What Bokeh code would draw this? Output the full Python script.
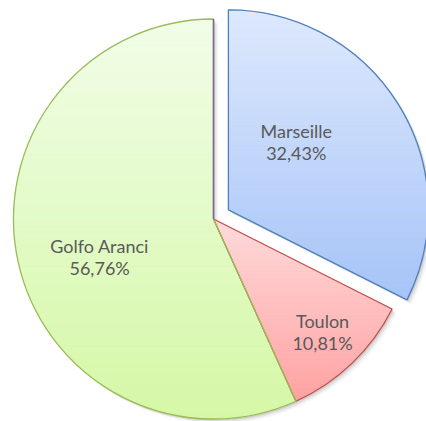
import numpy as np
from bokeh.plotting import figure
from bokeh.models import Range1d
from bokeh.embed import file_html
from bokeh.resources import INLINE
from bokeh.core.properties import value

# ---- data ----
categories = ["Marseille", "Toulon", "Golfo Aranci"]
shares = [32.43, 10.81, 56.76]
pct_labels = ["32,43%", "10,81%", "56,76%"]
exploded = [True, False, False]

# ---- style ----
fill_top = ["#dee9fd", "#ffdada", "#f1fde8"]
fill_bottom = ["#a6c4f8", "#ffa2a2", "#d5f8a6"]
edge_colors = ["#4f81bd", "#c0504d", "#9bbb59"]
zero_edge = "#8064a2"
# label placement: (distance from slice centre in px, angle clockwise from 12 o'clock)
label_layout = [(96, 45), (157, 136), (120, 251.6)]

W, H = 426, 421
CX, CY, R = 213.0, 202.5, 200.0
EXPLODE = 17.5

p = figure(width=W, height=H, x_range=Range1d(0, W), y_range=Range1d(0, H),
           output_backend="svg", toolbar_location=None, min_border=0,
           x_axis_location=None, y_axis_location=None)
p.grid.visible = False
p.outline_line_color = None
p.background_fill_color = "white"
p.border_fill_color = "white"


def hex2rgb(h):
    h = h.lstrip("#")
    return np.array([int(h[i:i + 2], 16) for i in (0, 2, 4)], dtype=float)


def rgb2hex(c):
    return "#%02x%02x%02x" % tuple(int(round(v)) for v in c)


def clip(poly, y0, keep_above):
    out = []
    n = len(poly)
    for i in range(n):
        a, b = poly[i], poly[(i + 1) % n]
        ina = a[1] >= y0 if keep_above else a[1] <= y0
        inb = b[1] >= y0 if keep_above else b[1] <= y0
        if ina:
            out.append(a)
        if ina != inb:
            t = (y0 - a[1]) / (b[1] - a[1])
            out.append((a[0] + t * (b[0] - a[0]), y0))
    return out


cum = 0.0
slices = []
for i, s in enumerate(shares):
    t0 = cum / 100 * 360
    t1 = (cum + s) / 100 * 360
    cum += s
    mid = np.radians((t0 + t1) / 2)
    off = EXPLODE if exploded[i] else 0.0
    cx = CX + off * np.sin(mid)
    cy = CY + off * np.cos(mid)
    slices.append((cx, cy, t0, t1))

WK = dict(direction="clock", start_angle_units="deg", end_angle_units="deg")

# shadows
for (cx, cy, t0, t1) in slices:
    for d, a in ((1.5, 0.10), (3.0, 0.07), (4.5, 0.04)):
        p.wedge(x=cx + d, y=cy - d, radius=R, start_angle=90 - t0, end_angle=90 - t1,
                fill_color="black", fill_alpha=a, line_color=None, **WK)

# gradient fills in horizontal bands
NB = 60
for i, (cx, cy, t0, t1) in enumerate(slices):
    angs = np.radians(np.linspace(90 - t0, 90 - t1, 160))
    poly = [(cx, cy)] + [(cx + R * np.cos(a), cy + R * np.sin(a)) for a in angs]
    ys = [q[1] for q in poly]
    ymin, ymax = min(ys), max(ys)
    ctop, cbot = hex2rgb(fill_top[i]), hex2rgb(fill_bottom[i])
    xs_all, ys_all, cols = [], [], []
    edges = np.linspace(ymin, ymax, NB + 1)
    for k in range(NB):
        band = clip(clip(poly, edges[k], True), edges[k + 1], False)
        if len(band) < 3:
            continue
        f = ((edges[k] + edges[k + 1]) / 2 - ymin) / (ymax - ymin)
        c = rgb2hex(cbot + (ctop - cbot) * f)
        xs_all.append([q[0] for q in band])
        ys_all.append([q[1] for q in band])
        cols.append(c)
    p.patches(xs=xs_all, ys=ys_all, fill_color=cols, line_color=cols, line_width=0.8)

# outlines
for i, (cx, cy, t0, t1) in enumerate(slices):
    p.wedge(x=cx, y=cy, radius=R, start_angle=90 - t0, end_angle=90 - t1,
            fill_alpha=0, line_color=edge_colors[i], line_width=1.3, **WK)

# zero-size slice edge at 12 o'clock
p.segment(x0=[CX], y0=[CY], x1=[CX], y1=[CY + R], line_color=zero_edge, line_width=1.5)

# labels
lx, ly, lt = [], [], []
for i, (cx, cy, t0, t1) in enumerate(slices):
    r, ang = label_layout[i]
    a = np.radians(ang)
    lx.append(cx + r * np.sin(a))
    ly.append(cy + r * np.cos(a))
    lt.append(categories[i] + "\n" + pct_labels[i])
p.text(x=lx, y=ly, text=lt, text_align="center", text_baseline="middle",
       text_font=value("Lato"), text_font_size="18px", text_color="#595959",
       text_line_height=1.03)

open("out.html", "w").write(file_html(p, INLINE))
